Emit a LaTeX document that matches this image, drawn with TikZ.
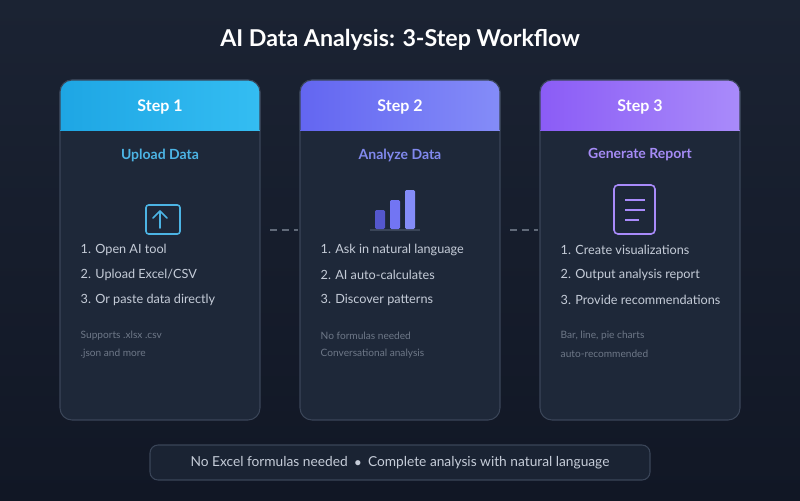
\documentclass[tikz,border=0pt]{standalone}
\usepackage{fontspec}
\setmainfont{Lato}
\definecolor{bgA}{HTML}{1B2333}
\definecolor{bgB}{HTML}{111725}
\definecolor{cardfill}{HTML}{1E2839}
\definecolor{cardline}{HTML}{3A4558}
\definecolor{bodytext}{HTML}{C5CCD8}
\definecolor{notetext}{HTML}{6E7888}
\definecolor{oneA}{HTML}{1EA6E4}\definecolor{oneB}{HTML}{34BDF2}\definecolor{oneT}{HTML}{4CB4E4}
\definecolor{twoA}{HTML}{6366F1}\definecolor{twoB}{HTML}{848CF8}\definecolor{twoT}{HTML}{8189EE}
\definecolor{threeA}{HTML}{8B5CF6}\definecolor{threeB}{HTML}{A98BFA}\definecolor{threeT}{HTML}{A58BF5}
\tikzset{
  card/.style={draw=cardline, fill=cardfill, rounded corners=12*0.75pt, line width=0.8pt},
  steptitle/.style={text=white, font=\bfseries\fontsize{12}{14}\selectfont},
  subtitle/.style={font=\bfseries\fontsize{10.5}{12}\selectfont},
  item/.style={text=bodytext, anchor=west, font=\fontsize{9.5}{11}\selectfont},
  note/.style={text=notetext, anchor=west, font=\fontsize{7.6}{10}\selectfont},
  link/.style={draw=cardline!80!white, dashed, dash pattern=on 5pt off 4pt, line width=1pt}
}
\begin{document}
\begin{tikzpicture}[x=0.75pt,y=-0.75pt]
\shade[top color=bgA, bottom color=bgB] (0,0) rectangle (800,500);
\useasboundingbox (0,0) rectangle (800,500);
\node[text=white, font=\bfseries\fontsize{17.4}{20}\selectfont] (title) at (400,40) {AI Data Analysis: 3-Step Workflow};
% cards
\foreach \x/\n/\ca/\cb/\ct/\sub in {60/1/oneA/oneB/oneT/Upload Data,300/2/twoA/twoB/twoT/Analyze Data,540/3/threeA/threeB/threeT/Generate Report}{
  \draw[card] (\x,80) rectangle (\x+200,420);
  \begin{scope}
    \clip[rounded corners=12*0.75pt] (\x,80) rectangle (\x+200,150);
    \shade[left color=\ca, right color=\cb] (\x,80) rectangle (\x+200,130);
  \end{scope}
  \draw[cardline, line width=0.8pt, rounded corners=12*0.75pt] (\x,130) -- (\x,80) -- (\x+200,80) -- (\x+200,130);
  \node[steptitle] (step\n) at (\x+100,107) {Step \n};
  \node[subtitle, text=\ct] (sub\n) at (\x+100,155) {\sub};
}
% icons
\draw[oneT, line width=1.2pt, rounded corners=2pt] (146,205) rectangle (180,234);
\draw[oneT, line width=1.2pt, line cap=round, line join=round] (160,228) -- (160,211) (153,218) -- (160,211) -- (167,218);
\draw[cardline, line width=0.8pt] (370,230) -- (420,230);
\fill[twoA!85!black, rounded corners=1pt] (375,210) rectangle (385,229);
\fill[twoA!90!white, rounded corners=1pt] (390,200) rectangle (400,229);
\fill[twoB, rounded corners=1pt] (405,190) rectangle (415,229);
\draw[threeB, line width=1.2pt, rounded corners=3pt] (614,185) rectangle (655,234);
\draw[threeB, line width=1.2pt] (625,200) -- (645,200) (625,210) -- (645,210) (625,220) -- (639,220);
% lists
\foreach \x/\a/\b/\c/\p/\q in {60/Open AI tool/Upload Excel\slash CSV/Or paste data directly/Supports .xlsx .csv/.json and more,
  300/Ask in natural language/AI auto-calculates/Discover patterns/No formulas needed/Conversational analysis,
  540/Create visualizations/Output analysis report/Provide recommendations/{Bar, line, pie charts}/auto-recommended}{
  \node[item] at (\x+16,250) {1. \a};
  \node[item] at (\x+16,275) {2. \b};
  \node[item] at (\x+16,300) {3. \c};
  \node[note] at (\x+16,336) {\p};
  \node[note] at (\x+16,354) {\q};
}
% connectors
\coordinate (l1a) at (270,230); \coordinate (l1b) at (298,230);
\coordinate (l2a) at (510,230); \coordinate (l2b) at (538,230);
\draw[link] (l1a) -- (l1b);
\draw[link] (l2a) -- (l2b);
% footer
\draw[draw=cardline, fill=cardfill!70!bgB, rounded corners=8*0.75pt, line width=0.8pt] (150,445) rectangle (650,480);
\node[text=bodytext, font=\fontsize{10.3}{12}\selectfont] (foot) at (400,463) {No Excel formulas needed\enspace$\bullet$\enspace Complete analysis with natural language};
\end{tikzpicture}
\end{document}
